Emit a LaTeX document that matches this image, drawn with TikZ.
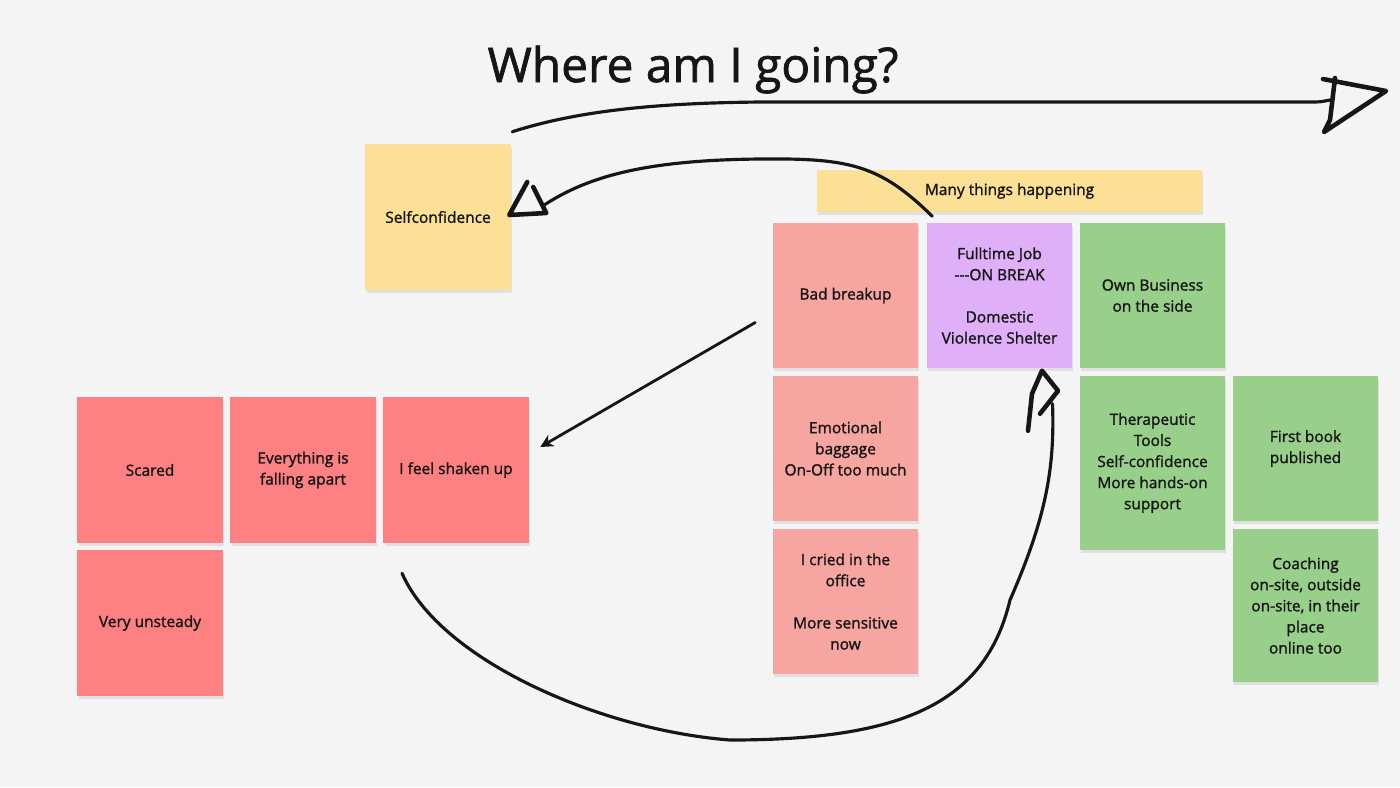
\documentclass[tikz,border=0pt]{standalone}
\usepackage{fontspec}
\setmainfont{Open Sans}
\newfontfamily\medfont{Open Sans}[FakeBold=1.4]
\usetikzlibrary{shadows,arrows.meta,calc}
\definecolor{bgc}{HTML}{F4F4F4}
\definecolor{inkc}{HTML}{161616}
\definecolor{yellowc}{HTML}{FCE096}
\definecolor{salmonc}{HTML}{F6A5A1}
\definecolor{redc}{HTML}{FD8182}
\definecolor{purplec}{HTML}{DFAFF7}
\definecolor{greenc}{HTML}{98D08B}

\begin{document}
\begin{tikzpicture}[x=0.01cm,y=-0.01cm,
    sticky/.style={minimum width=1.45cm, minimum height=1.45cm, inner sep=0pt,
      align=center, text=inkc, font=\medfont\fontsize{4.4}{6}\selectfont,
      general shadow={fill=black!12, shadow xshift=0.3pt, shadow yshift=-0.9pt}},
    ink/.style={draw=inkc, line width=0.9pt, line cap=round, line join=round},
    inkhead/.style={ink, line width=1.3pt}]
  \useasboundingbox (0,0) rectangle (1400,787);
  \fill[bgc] (0,0) rectangle (1400,787);

  % ==========================================================
  %                     TITLE
  % ==========================================================
  \node[text=inkc, anchor=base, font=\medfont\fontsize{13.6}{15}\selectfont] (title) at (693,82) {Where am I going?};

  % ==========================================================
  %                     STICKY NOTES
  % ==========================================================
  \node[sticky, fill=yellowc] (self) at (438,217) {Selfconfidence};
  \node[sticky, fill=yellowc, minimum width=3.85cm, minimum height=0.42cm] (many) at (1009.5,191) {Many things happening};

  % right block -- life now
  \node[sticky, fill=salmonc] (bad)   at (845.5,295.5) {Bad breakup};
  \node[sticky, fill=salmonc] (emo)   at (845.5,448.5) {Emotional\\baggage\\On-Off too much};
  \node[sticky, fill=salmonc] (cried) at (845.5,601.5) {I cried in the\\office\\[6pt]More sensitive\\now};
  \node[sticky, fill=purplec] (job)   at (999.5,295.5) {Fulltime Job\\-\kern0pt-\kern0pt-ON BREAK\\[6pt]Domestic\\Violence Shelter};
  \node[sticky, fill=greenc]  (own)   at (1152.5,295.5) {Own Business\\on the side};
  \node[sticky, fill=greenc, minimum height=1.74cm] (thera) at (1152.5,463) {Therapeutic\\Tools\\Self-confidence\\More hands-on\\support};
  \node[sticky, fill=greenc]  (book)  at (1305.5,448.5) {First book\\published};
  \node[sticky, fill=greenc, minimum height=1.53cm] (coach) at (1305.5,605.5) {Coaching\\on-site, outside\\on-site, in their\\place\\online too};

  % left block -- feelings
  \node[sticky, fill=redc] (scared)   at (150,470) {Scared};
  \node[sticky, fill=redc] (falling)  at (303,470) {Everything is\\falling apart};
  \node[sticky, fill=redc] (shaken)   at (456,470) {I feel shaken up};
  \node[sticky, fill=redc] (unsteady) at (150,623) {Very unsteady};

  % ==========================================================
  %                     HAND-DRAWN ARROWS
  % ==========================================================
  % long arrow to the future
  \coordinate (launch) at ($(self.north east)+(1,-12)$);
  \coordinate (goal) at (1330,100);
  \draw[ink] (launch) .. controls (580,110) and (660,103) .. (760,102)
    -- (1310,102) .. controls (1320,102) .. (goal);
  \draw[inkhead] (goal) ++(-7,-21) -- ++(63,12) -- ++(-62,41) -- ++(6,-12) -- ++(5,-42);

  % job back to selfconfidence
  \draw[ink] ($(job.north west)+(6,-6)$) .. controls (880,165) and (850,158) .. (760,159)
    .. controls (650,160) and (590,175) .. ($(self.east)+(33,-12)$);
  \draw[inkhead] (self.east) ++(16,-35) -- ++(-18,33) -- ++(37,-2) -- ++(-13,-26);

  % breakup shakes me up
  \draw[ink, line width=0.8pt, -{Stealth[length=0.13cm, width=0.13cm]}]
    ($(bad.west)+(-17,27)$) -- ($(shaken.east)+(11,-23)$);

  % the long way round, back to the job
  \draw[ink] ($(shaken.south)+(-54,30)$) .. controls (440,660) and (600,730) .. (730,740)
    .. controls (900,740) and (985,705) .. (1010,600)
    .. controls (1045,520) and (1055,470) .. ($(job.south)+(53,35)$);
  \draw[inkhead] (job.south) ++(40.5,45) -- ++(18,-23) -- ++(-16,-20) -- ++(-10,23) -- ++(-4,37);

\end{tikzpicture}
\end{document}
